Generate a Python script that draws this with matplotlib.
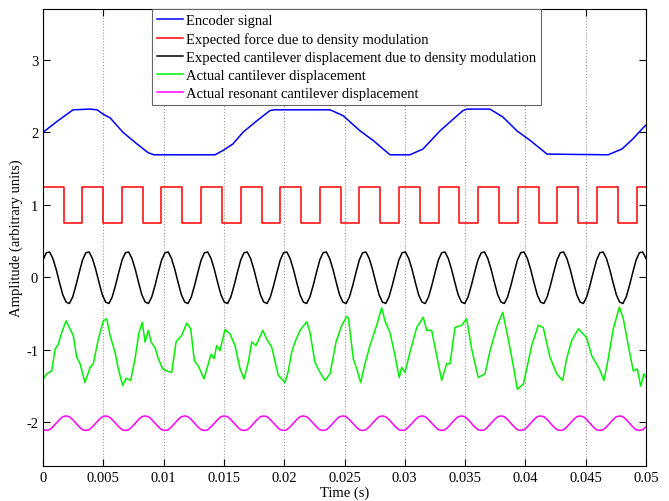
import numpy as np
import matplotlib.pyplot as plt

plt.rcParams['font.family'] = ['Liberation Serif', 'DejaVu Serif']
plt.rcParams['font.size'] = 10.5
plt.rcParams['axes.unicode_minus'] = False

# Encoder signal (breakpoints)
t_encoder = [0.0, 0.00124, 0.00249, 0.00390, 0.00448, 0.00498, 0.00556, 0.00663, 0.00779,
             0.00871, 0.00920, 0.01426, 0.01493, 0.01575, 0.01658, 0.01774, 0.01882, 0.01915,
             0.02380, 0.02488, 0.02629, 0.02736, 0.02877, 0.03043, 0.03151, 0.03292, 0.03400,
             0.03483, 0.03516, 0.03706, 0.03814, 0.03930, 0.04038, 0.04179, 0.04685, 0.04801,
             0.04892, 0.04975, 0.05]
y_encoder = [2.00, 2.16, 2.31, 2.32, 2.31, 2.25, 2.20, 2.00, 1.84,
             1.72, 1.69, 1.69, 1.75, 1.84, 2.00, 2.16, 2.30, 2.31,
             2.31, 2.23, 2.02, 1.89, 1.69, 1.69, 1.77, 2.02, 2.18,
             2.30, 2.32, 2.32, 2.21, 2.02, 1.89, 1.70, 1.69, 1.77,
             1.91, 2.06, 2.10]

# Expected force: square wave switching times
force_falls = [0.001700, 0.004983, 0.008267, 0.011551, 0.014834, 0.018118, 0.021401, 0.024685,
               0.027969, 0.031252, 0.034536, 0.037819, 0.041103, 0.044387, 0.047670]
force_rises = [0.003250, 0.006534, 0.009818, 0.013101, 0.016385, 0.019668, 0.022952, 0.026236,
               0.029519, 0.032803, 0.036086, 0.039370, 0.042654, 0.045937, 0.049221]
force_high = 1.25
force_low = 0.75

# Expected cantilever displacement (sampled)
y_expected = [
    0.24, 0.34, 0.35, 0.26, 0.11, -0.07, -0.24, -0.34, -0.36, -0.27, -0.11, 0.07,
    0.24, 0.34, 0.35, 0.26, 0.11, -0.07, -0.24, -0.34, -0.36, -0.27, -0.11, 0.07,
    0.24, 0.34, 0.35, 0.26, 0.11, -0.07, -0.24, -0.34, -0.36, -0.27, -0.11, 0.07,
    0.24, 0.34, 0.35, 0.26, 0.11, -0.07, -0.24, -0.34, -0.36, -0.27, -0.11, 0.07,
    0.24, 0.34, 0.35, 0.26, 0.11, -0.07, -0.24, -0.34, -0.36, -0.27, -0.11, 0.07,
    0.24, 0.34, 0.35, 0.26, 0.11, -0.07, -0.24, -0.34, -0.36, -0.27, -0.11, 0.07,
    0.24, 0.34, 0.35, 0.26, 0.11, -0.07, -0.24, -0.34, -0.36, -0.27, -0.11, 0.07,
    0.24, 0.34, 0.35, 0.26, 0.11, -0.07, -0.24, -0.34, -0.36, -0.27, -0.11, 0.07,
    0.24, 0.34, 0.35, 0.26, 0.11, -0.07, -0.24, -0.34, -0.36, -0.27, -0.11, 0.07,
    0.24, 0.34, 0.35, 0.26, 0.11, -0.07, -0.24, -0.34, -0.36, -0.27, -0.11, 0.07,
    0.24, 0.34, 0.35, 0.26, 0.11, -0.07, -0.24, -0.34, -0.36, -0.27, -0.11, 0.07,
    0.24, 0.34, 0.35, 0.26, 0.11, -0.07, -0.24, -0.34, -0.36, -0.27, -0.11, 0.07,
    0.24, 0.34, 0.35, 0.26, 0.11, -0.07, -0.24, -0.34, -0.36, -0.27, -0.11, 0.07,
    0.24, 0.34, 0.35, 0.26, 0.11, -0.07, -0.24, -0.34, -0.36, -0.27, -0.11, 0.07,
    0.24, 0.34, 0.35, 0.26, 0.11, -0.07, -0.24, -0.34, -0.36, -0.27, -0.11, 0.07,
    0.24, 0.34, 0.35, 0.26,
]

# Actual resonant cantilever displacement (sampled)
y_resonant = [
    -2.10, -2.11, -2.10, -2.06, -2.01, -1.96, -1.92, -1.91, -1.92, -1.96, -2.01, -2.06,
    -2.10, -2.11, -2.10, -2.06, -2.01, -1.96, -1.92, -1.91, -1.92, -1.96, -2.01, -2.06,
    -2.10, -2.11, -2.10, -2.06, -2.01, -1.96, -1.92, -1.91, -1.92, -1.96, -2.01, -2.06,
    -2.10, -2.11, -2.10, -2.06, -2.01, -1.96, -1.92, -1.91, -1.92, -1.96, -2.01, -2.06,
    -2.10, -2.11, -2.10, -2.06, -2.01, -1.96, -1.92, -1.91, -1.92, -1.96, -2.01, -2.06,
    -2.10, -2.11, -2.10, -2.06, -2.01, -1.96, -1.92, -1.91, -1.92, -1.96, -2.01, -2.06,
    -2.10, -2.11, -2.10, -2.06, -2.01, -1.96, -1.92, -1.91, -1.92, -1.96, -2.01, -2.06,
    -2.10, -2.11, -2.10, -2.06, -2.01, -1.96, -1.92, -1.91, -1.92, -1.96, -2.01, -2.06,
    -2.10, -2.11, -2.10, -2.06, -2.01, -1.96, -1.92, -1.91, -1.92, -1.96, -2.01, -2.06,
    -2.10, -2.11, -2.10, -2.06, -2.01, -1.96, -1.92, -1.91, -1.92, -1.96, -2.01, -2.06,
    -2.10, -2.11, -2.10, -2.06, -2.01, -1.96, -1.92, -1.91, -1.92, -1.96, -2.01, -2.06,
    -2.10, -2.11, -2.10, -2.06, -2.01, -1.96, -1.92, -1.91, -1.92, -1.96, -2.01, -2.06,
    -2.10, -2.11, -2.10, -2.06, -2.01, -1.96, -1.92, -1.91, -1.92, -1.96, -2.01, -2.06,
    -2.10, -2.11, -2.10, -2.06, -2.01, -1.96, -1.92, -1.91, -1.92, -1.96, -2.01, -2.06,
    -2.10, -2.11, -2.10, -2.06, -2.01, -1.96, -1.92, -1.91, -1.92, -1.96, -2.01, -2.06,
    -2.10, -2.11, -2.10, -2.06,
]

# Actual cantilever displacement
t_actual = [
    0.0, 0.00031, 0.00072, 0.00100, 0.00127, 0.00155, 0.00191, 0.00224, 0.00251, 0.00279,
    0.00307, 0.00348, 0.00390, 0.00417, 0.00459, 0.00500, 0.00528, 0.00556, 0.00597, 0.00624,
    0.00661, 0.00688, 0.00727, 0.00763, 0.00796, 0.00823, 0.00846, 0.00873, 0.00896, 0.00929,
    0.00956, 0.00993, 0.01026, 0.01067, 0.01103, 0.01150, 0.01192, 0.01225, 0.01255, 0.01288,
    0.01335, 0.01371, 0.01393, 0.01418, 0.01440, 0.01468, 0.01509, 0.01551, 0.01592, 0.01634,
    0.01667, 0.01702, 0.01731, 0.01766, 0.01822, 0.01855, 0.01896, 0.01951, 0.02007, 0.02034,
    0.02062, 0.02090, 0.02131, 0.02187, 0.02214, 0.02255, 0.02297, 0.02338, 0.02380, 0.02430,
    0.02477, 0.02518, 0.02532, 0.02573, 0.02601, 0.02634, 0.02670, 0.02711, 0.02767, 0.02808,
    0.02836, 0.02877, 0.02919, 0.02954, 0.02974, 0.03002, 0.03043, 0.03099, 0.03153, 0.03182,
    0.03223, 0.03250, 0.03306, 0.03347, 0.03375, 0.03416, 0.03472, 0.03513, 0.03555, 0.03609,
    0.03665, 0.03707, 0.03762, 0.03812, 0.03858, 0.03900, 0.03933, 0.03983, 0.04011, 0.04052,
    0.04107, 0.04148, 0.04204, 0.04260, 0.04309, 0.04342, 0.04384, 0.04439, 0.04508, 0.04550,
    0.04613, 0.04652, 0.04687, 0.04729, 0.04779, 0.04812, 0.04867, 0.04895, 0.04928, 0.04956,
    0.04983, 0.05,
]
y_actual = [
    -1.40, -1.33, -1.29, -0.99, -0.92, -0.76, -0.60, -0.71, -0.80, -1.10,
    -1.19, -1.45, -1.24, -1.19, -0.85, -0.60, -0.57, -0.80, -1.03, -1.26,
    -1.49, -1.39, -1.42, -1.12, -0.76, -0.62, -0.89, -0.73, -0.89, -0.97,
    -1.12, -1.26, -1.29, -1.31, -0.89, -0.80, -0.63, -0.71, -1.15, -1.22,
    -1.40, -1.19, -1.06, -1.12, -0.94, -1.01, -0.72, -0.78, -0.94, -1.26,
    -1.40, -1.17, -0.89, -0.94, -0.73, -0.85, -0.96, -1.35, -1.45, -1.29,
    -1.03, -0.89, -0.73, -0.61, -0.76, -1.17, -1.31, -1.42, -1.33, -0.89,
    -0.66, -0.54, -0.56, -1.12, -1.26, -1.45, -1.19, -0.94, -0.66, -0.42,
    -0.60, -0.76, -1.08, -1.38, -1.24, -1.31, -1.03, -0.69, -0.55, -0.73,
    -0.73, -0.96, -1.42, -1.19, -1.19, -0.69, -0.66, -0.57, -0.99, -1.38,
    -1.33, -1.01, -0.69, -0.48, -0.85, -1.22, -1.54, -1.47, -1.26, -0.94,
    -0.66, -0.69, -1.10, -1.33, -1.42, -1.12, -0.87, -0.71, -0.83, -1.08,
    -1.26, -1.42, -1.12, -0.71, -0.41, -0.57, -1.06, -1.29, -1.26, -1.50,
    -1.33, -1.38,
]

x_ticks = [0, 0.005, 0.01, 0.015, 0.02, 0.025, 0.03, 0.035, 0.04, 0.045, 0.05]
x_ticklabels = ['0', '0.005', '0.01', '0.015', '0.02', '0.025', '0.03', '0.035', '0.04', '0.045', '0.05']
y_ticks = [-2, -1, 0, 1, 2, 3]

# square wave as step points
t_force = [0.0]
y_force = [force_high]
for tf, tr in zip(force_falls, force_rises):
    t_force += [tf, tr]
    y_force += [force_low, force_high]
t_force.append(0.05)
y_force.append(force_high)

t_sampled = np.linspace(0, 0.05, len(y_expected))

fig = plt.figure(figsize=(6.69, 5.02), dpi=100)
ax = fig.add_axes([0.0643, 0.0697, 0.9013, 0.9104])

lw = 1.1
ax.plot(t_encoder, y_encoder, color='#0000ff', lw=lw, label='Encoder signal')
ax.plot(t_force, y_force, color='#ff0000', lw=lw, drawstyle='steps-post',
        label='Expected force due to density modulation')
ax.plot(t_sampled, y_expected, color='black', lw=lw,
        label='Expected cantilever displacement due to density modulation')
ax.plot(t_actual, y_actual, color='#00f000', lw=lw, label='Actual cantilever displacement')
ax.plot(t_sampled, y_resonant, color='#ff00ff', lw=lw, label='Actual resonant cantilever displacement')

ax.set_xlim(0, 0.05)
ax.set_ylim(-2.6, 3.7)
ax.set_xticks(x_ticks)
ax.set_xticklabels(x_ticklabels)
ax.set_yticks(y_ticks)
ax.set_yticklabels([str(v) for v in y_ticks])
ax.tick_params(direction='in', top=True, right=True, length=5, width=0.8, labelsize=10.5)
ax.xaxis.grid(True, linestyle=':', color='0.6', lw=0.8)
for s in ax.spines.values():
    s.set_linewidth(0.8)

ax.set_xlabel('Time (s)', labelpad=1)
ax.set_ylabel('Amplitude (arbitrary units)', labelpad=2)

leg = ax.legend(loc='upper center', bbox_to_anchor=(0.503, 1.0), borderaxespad=0,
                fancybox=False, framealpha=1, edgecolor='0.4', handlelength=1.8,
                handletextpad=0.2, labelspacing=0.33, borderpad=0.35, fontsize=10.5)
leg.get_frame().set_linewidth(0.8)

fig.savefig('out.png', dpi=100)
